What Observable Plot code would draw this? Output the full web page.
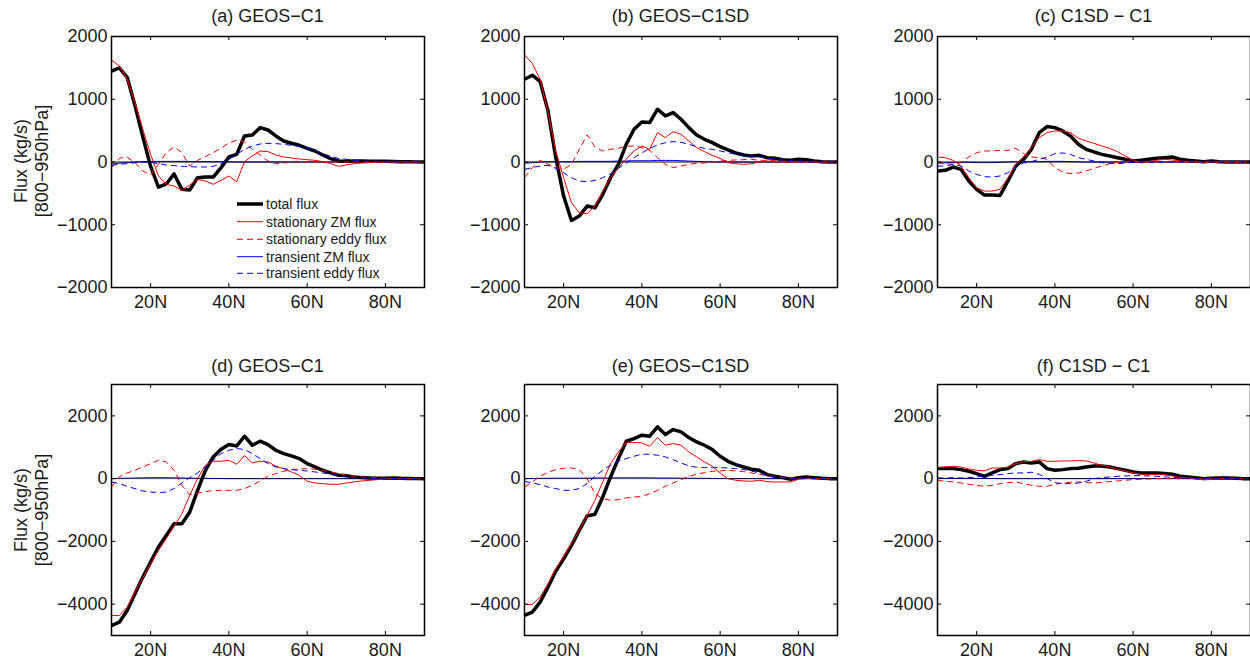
<!DOCTYPE html>
<html><head><meta charset="utf-8">
<script src="https://cdn.jsdelivr.net/npm/d3@7"></script>
<script src="https://cdn.jsdelivr.net/npm/@observablehq/plot@0.6"></script>
<style>
html,body{margin:0;padding:0;background:#fff;}
body{width:1250px;height:659px;overflow:hidden;position:relative;font-family:"Liberation Sans",Arial,sans-serif;}
.panel{position:absolute;}
#overlay{position:absolute;left:0;top:0;pointer-events:none;}
</style></head>
<body>
<div id="root"></div>
<script>
// ---- data (latitude grid, deg N) ----
const lat = [10,12,14,16,18,20,22,24,26,28,30,32,34,36,38,40,42,44,46,48,50,52,54,56,58,60,62,64,66,68,70,72,74,76,78,80,82,84,86,88,90];

const seriesNames = ["total flux","stationary ZM flux","stationary eddy flux","transient ZM flux","transient eddy flux"];
const xTicks = [20,40,60,80];
const yTicksTop = [2000,1000,0,-1000,-2000];
const yTicksBottom = [2000,0,-2000,-4000];
const yDomainTop = [-2000,2000];
const yDomainBottom = [-5000,3000];
const titles = ["(a) GEOS−C1","(b) GEOS−C1SD","(c) C1SD − C1","(d) GEOS−C1","(e) GEOS−C1SD","(f) C1SD − C1"];

// (a)
const totalA = [1450,1500,1350,900,400,-70,-400,-350,-190,-436,-447,-250,-240,-240,-90,80,122,415,430,548,510,415,335,298,266,218,175,112,53,16,10,15,15,12,10,10,8,5,3,2,0];
const statZMA = [1623,1532,1320,947,521,122,-223,-356,-383,-452,-367,-277,-303,-356,-293,-223,-314,5,96,175,165,112,80,64,48,37,27,5,-27,-69,-48,-27,-16,-8,-3,0,0,0,0,0,0];
const statEddyA = [-90,60,80,-10,-144,-207,-37,150,240,150,-64,27,85,150,218,303,346,320,202,112,16,-27,-16,-5,5,5,3,0,0,0,0,0,0,0,0,0,0,0,0,0,0];
const transZMA = [-30,-20,-10,0,5,8,10,10,10,10,8,5,5,5,5,3,0,0,0,0,0,0,0,0,0,0,0,0,0,0,0,0,0,0,0,0,0,0,0,0,0];
const transEddyA = [-53,-37,-27,-11,0,-5,-27,-48,-58,-69,-74,-80,-80,-69,-27,43,122,202,255,287,298,293,282,266,250,218,186,133,90,58,43,27,16,11,5,0,0,0,0,0,0];
// (b)
const totalB = [1319,1383,1282,814,69,-543,-931,-862,-702,-729,-516,-250,-37,282,521,638,628,841,734,787,681,548,431,362,309,245,192,144,112,96,106,69,59,37,27,43,37,16,5,0,0];
const statZMB = [1708,1569,1319,787,176,-250,-649,-809,-825,-702,-463,-250,-90,43,176,255,202,468,388,484,442,335,229,165,106,59,-11,-27,-37,-27,0,16,5,5,0,0,0,0,0,0,0];
const statEddyB = [-250,-90,27,-37,-90,-117,-37,202,431,240,176,202,218,250,255,229,186,69,-37,-90,-64,-37,-21,-16,0,16,27,32,37,43,27,27,21,16,5,10,5,0,0,0,0];
const transZMB = [-20,-10,0,5,5,5,5,10,10,10,10,10,15,15,20,20,20,25,25,25,20,15,10,5,0,0,0,0,0,0,0,0,0,0,0,0,0,0,0,0,0];
const transEddyB = [-117,-90,-64,-53,-101,-170,-250,-303,-314,-293,-250,-186,-101,-16,69,144,218,271,309,325,314,282,245,218,202,176,149,122,106,90,80,64,48,32,21,16,5,0,0,0,0];
// (c)
const totalC = [-144,-133,-80,-117,-303,-436,-527,-527,-532,-303,-64,43,202,468,564,548,495,415,282,202,160,122,96,69,43,16,27,43,59,69,80,43,27,16,5,16,5,0,0,0,0];
const statZMC = [80,69,27,-64,-250,-410,-463,-463,-436,-250,-37,80,229,388,468,495,495,468,378,335,298,255,218,165,96,27,-16,5,27,43,32,16,5,0,0,0,0,0,0,0,0];
const statEddyC = [-11,-27,-37,-11,80,149,176,176,186,186,218,133,80,69,43,-90,-160,-186,-176,-144,-101,-64,-27,-5,0,5,0,0,0,0,0,0,0,0,0,0,0,0,0,0,0];
const transZMC = [-20,-15,-10,-5,-5,-10,-10,-10,-5,0,5,5,5,5,10,10,10,5,5,0,0,0,0,0,0,0,0,0,0,0,0,0,0,0,0,0,0,0,0,0,0];
const transEddyC = [-64,-64,-37,-64,-144,-197,-234,-239,-223,-170,-90,-16,5,43,80,133,144,122,69,43,16,-11,-21,-27,-16,-5,0,0,0,0,0,0,0,0,0,0,0,0,0,0,0];
// (d)
const totalD = [-4682,-4575,-4203,-3671,-3139,-2660,-2181,-1809,-1436,-1436,-1064,-372,266,692,936,1085,1043,1351,1064,1192,1085,904,798,724,638,479,372,266,181,106,96,53,32,21,11,11,21,10,5,0,0];
const statZMD = [-4362,-4362,-4096,-3618,-3160,-2713,-2288,-1915,-1522,-1117,-532,0,426,553,553,585,458,734,500,553,532,394,319,213,106,-85,-138,-160,-181,-181,-138,-106,-74,-53,-32,-11,0,0,0,0,0];
const statEddyD = [-266,53,181,266,372,479,585,532,266,-213,-511,-458,-415,-383,-372,-372,-372,-319,-213,-74,74,160,234,287,309,319,298,266,213,160,117,85,53,32,21,11,5,0,0,0,0];
const transZMD = [0,10,15,20,25,30,30,30,25,20,15,10,10,5,5,0,0,0,0,0,0,0,0,0,0,0,0,0,0,0,0,0,0,0,0,0,0,0,0,0,0];
const transEddyD = [-106,-160,-245,-319,-394,-426,-447,-426,-319,-138,32,181,372,585,798,904,958,926,798,638,479,372,319,287,266,245,213,181,138,96,53,32,16,11,5,0,0,0,0,0,0];
// (e)
const totalE = [-4362,-4256,-3937,-3458,-2947,-2554,-2128,-1649,-1192,-1138,-585,53,638,1192,1277,1383,1351,1649,1404,1564,1490,1309,1170,1064,926,713,553,447,372,298,266,128,74,32,-21,32,53,32,11,0,0];
const statZME = [-4011,-4011,-3777,-3352,-2873,-2479,-2075,-1649,-1170,-692,-106,479,851,1149,1149,1138,1032,1309,1064,1117,1064,851,692,532,394,181,0,-53,-74,-85,-53,-96,-106,-106,-106,-21,11,0,0,0,0];
const statEddyE = [-266,-106,74,202,287,330,340,287,0,-479,-638,-692,-670,-617,-585,-564,-479,-372,-245,-138,-32,74,138,192,234,245,266,245,223,181,138,96,64,43,21,11,5,0,0,0,0];
const transZME = [0,5,10,10,15,15,15,15,15,20,20,20,25,25,25,25,25,20,20,20,15,15,10,10,5,5,0,0,0,0,0,0,0,0,0,0,0,0,0,0,0];
const transEddyE = [-85,-138,-192,-266,-319,-372,-372,-319,-160,74,266,426,553,638,713,777,777,745,692,606,500,404,362,351,351,351,340,319,287,245,181,106,53,21,5,0,0,0,0,0,0];
// (f)
const totalF = [319,319,319,287,234,160,74,181,287,319,479,532,500,532,319,266,287,319,330,372,404,404,372,319,266,213,181,181,181,160,138,74,53,32,0,11,21,21,11,0,0];
const statZMF = [351,372,394,372,309,266,245,340,340,372,479,532,553,606,553,553,564,564,575,564,500,426,372,298,245,181,138,128,138,128,85,32,21,-11,-32,-21,0,0,0,0,0];
const statEddyF = [-53,-85,-106,-138,-181,-213,-245,-213,-160,-128,-106,-160,-213,-245,-245,-181,-138,-117,-106,-128,-138,-117,-96,-74,-53,-32,-21,-11,0,0,0,0,0,0,0,0,0,0,0,0,0];
const transZMF = [5,5,5,5,5,5,5,5,0,0,0,0,0,0,0,0,0,0,0,0,0,0,0,0,0,0,0,0,0,0,0,0,0,0,0,0,0,0,0,0,0];
const transEddyF = [21,21,32,21,32,53,85,106,128,160,181,181,202,138,0,-128,-160,-160,-138,-85,0,32,53,74,85,96,96,85,74,53,43,21,11,0,0,0,0,0,0,0,0];

// ---- layout & style ----
const FONT = "Liberation Sans, Arial, Helvetica, sans-serif";
const ML = 70, MR = 10, MT = 10, MB = 30, FW = 313, FH = 251;
const colLeft = [111, 524, 937];
const rowTop = [36, 384];
const styles = [
  {stroke:"#000000", width:3.5, dash:null},
  {stroke:"#ff0000", width:1, dash:null},
  {stroke:"#ff0000", width:1, dash:"6,4"},
  {stroke:"#0000ff", width:1, dash:null},
  {stroke:"#0000ff", width:1, dash:"6,4"}
];
const panels = [
  [totalA,statZMA,statEddyA,transZMA,transEddyA],
  [totalB,statZMB,statEddyB,transZMB,transEddyB],
  [totalC,statZMC,statEddyC,transZMC,transEddyC],
  [totalD,statZMD,statEddyD,transZMD,transEddyD],
  [totalE,statZME,statEddyE,transZME,transEddyE],
  [totalF,statZMF,statEddyF,transZMF,transEddyF]
];
const fmt = d => d < 0 ? "\u2212" + Math.abs(d) : String(d);

const root = document.getElementById("root");
panels.forEach((arrs, p) => {
  const row = p < 3 ? 0 : 1, col = p % 3;
  const yTicks = row === 0 ? yTicksTop : yTicksBottom;
  const data = [];
  arrs.forEach((vals, s) => vals.forEach((v, i) => data.push({lat: lat[i], v, s})));
  const lineOf = s => Plot.line(data.filter(d => d.s === s), {
    x: "lat", y: "v", stroke: styles[s].stroke, strokeWidth: styles[s].width,
    strokeDasharray: styles[s].dash, strokeLinejoin: "round", strokeLinecap: "butt"
  });
  const chart = Plot.plot({
    width: ML + FW + MR, height: MT + FH + MB,
    marginLeft: ML, marginRight: MR, marginTop: MT, marginBottom: MB,
    style: {fontFamily: FONT, fontSize: "18px", color: "#1a1a1a", background: "transparent", overflow: "visible"},
    x: {domain: [10, 90]},
    y: {domain: row === 0 ? yDomainTop : yDomainBottom},
    marks: [
      lineOf(3),
      Plot.ruleY([0], {stroke: "#000", strokeWidth: 1, strokeOpacity: row === 0 ? 1 : 0.6}),
      lineOf(0), lineOf(1), lineOf(2), lineOf(4),
      Plot.axisX(xTicks, {tickSize: 0, tickPadding: 8, tickFormat: d => d + "N", label: null, fontSize: 18}),
      Plot.axisY(yTicks, {tickSize: 0, tickPadding: 4, tickFormat: fmt, label: null, fontSize: 18}),
      Plot.tickX(xTicks, {x: d => d, insetTop: FH - 4, stroke: "#000"}),
      Plot.tickX(xTicks, {x: d => d, insetBottom: FH - 4, stroke: "#000"}),
      Plot.tickY(yTicks, {y: d => d, insetRight: FW - 4, stroke: "#000"}),
      Plot.tickY(yTicks, {y: d => d, insetLeft: FW - 4, stroke: "#000"}),
      Plot.frame({stroke: "#000", strokeWidth: 1.5})
    ]
  });
  const div = document.createElement("div");
  div.className = "panel";
  div.style.left = (colLeft[col] - ML) + "px";
  div.style.top = (rowTop[row] - MT) + "px";
  div.style.width = (ML + FW + MR) + "px";
  div.appendChild(chart);
  root.appendChild(div);
});

// ---- overlay text: titles, y labels, legend ----
const svg = d3.select("body").append("svg").attr("id", "overlay")
  .attr("width", 1250).attr("height", 659)
  .style("font-family", FONT).style("fill", "#1a1a1a");
titles.forEach((t, p) => {
  const row = p < 3 ? 0 : 1, col = p % 3;
  svg.append("text").attr("x", colLeft[col] + FW / 2).attr("y", row === 0 ? 21.5 : 372)
    .attr("text-anchor", "middle").attr("font-size", 18).text(t);
});
[161, 510].forEach(cy => {
  svg.append("text").attr("transform", `translate(27,${cy}) rotate(-90)`)
    .attr("text-anchor", "middle").attr("font-size", 18).text("Flux (kg/s)");
  svg.append("text").attr("transform", `translate(47.5,${cy}) rotate(-90)`)
    .attr("text-anchor", "middle").attr("font-size", 18).text("[800\u2212950hPa]");
});
const legY = [204, 221.7, 239.3, 256.7, 273.3];
seriesNames.forEach((name, s) => {
  svg.append("line").attr("x1", 237).attr("x2", 263).attr("y1", legY[s]).attr("y2", legY[s])
    .attr("stroke", styles[s].stroke).attr("stroke-width", styles[s].width)
    .attr("stroke-dasharray", styles[s].dash);
  svg.append("text").attr("x", 266).attr("y", legY[s]).attr("dy", "0.35em")
    .attr("font-size", 14).text(name);
});
</script>
</body></html>
